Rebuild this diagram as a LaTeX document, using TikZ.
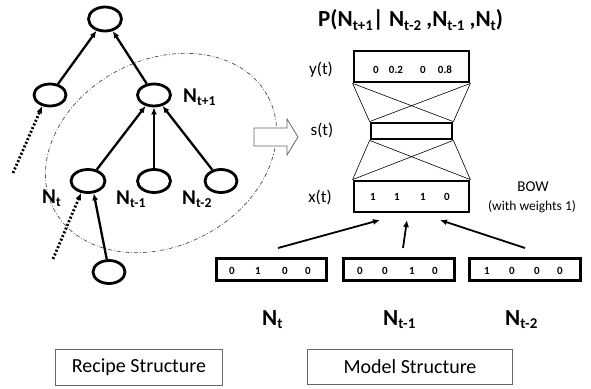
\documentclass[tikz,border=0pt]{standalone}
\usepackage{fontspec}
\setmainfont{Carlito}
\usetikzlibrary{arrows.meta,shapes.geometric,calc}
\newcommand{\lowsub}[1]{\raisebox{-0.15em}{\scalebox{0.65}{#1}}}
\begin{document}
\begin{tikzpicture}[x=1pt,y=-1pt,
  treenode/.style={ellipse, draw, line width=2.8pt, minimum width=32pt, minimum height=22pt, inner sep=0pt},
  tarrow/.style={line width=2.3pt, -{Latex[length=7pt,width=6pt]}},
  darrow/.style={line width=2.8pt, dash pattern=on 2pt off 2pt, -{Latex[length=7pt,width=6pt]}},
  barrow/.style={line width=1.8pt, -{Latex[length=7pt,width=6pt]}},
  nlab/.style={font=\fontsize{21}{25}\selectfont\bfseries, inner sep=0pt, anchor=base west},
  blab/.style={font=\fontsize{23}{27}\selectfont\bfseries, inner sep=0pt, anchor=base west},
  vecbox/.style={draw, line width=2.8pt, rectangle, inner sep=0pt},
  num/.style={font=\fontsize{11}{13}\selectfont\bfseries, inner sep=0pt},
  side/.style={font=\fontsize{17}{20}\selectfont, inner sep=0pt},
  caption/.style={draw=black!60, line width=0.8pt, rectangle, inner sep=0pt, font=\fontsize{20}{24}\selectfont},
  thin/.style={line width=0.6pt}
]
\useasboundingbox (0,0) rectangle (591,388);

% dash-dotted ellipse around the local context
\begin{scope}[shift={(161,153)}, rotate=27.6]
  \draw[black!70, line width=0.7pt, dash pattern=on 4pt off 2pt on 0.8pt off 2pt] (0,0) ellipse [x radius=121, y radius=93];
\end{scope}

% hollow arrow
\draw[black!60, line width=0.8pt, fill=white] (254,128) -- (287,128) -- (287,119) -- (298,137) -- (287,155) -- (287,146) -- (254,146) -- cycle;

% tree
\node[treenode, minimum width=33pt, minimum height=24pt] (top) at (105,19) {};
\node[treenode] (lm) at (50,95) {};
\node[treenode, minimum width=33pt] (np1) at (154,95) {};
\node[treenode, minimum width=34pt, minimum height=23pt] (nt) at (88,181) {};
\node[treenode, minimum width=33pt, minimum height=23pt] (ntm1) at (154,181) {};
\node[treenode, minimum height=23pt] (ntm2) at (221,181) {};
\node[treenode, minimum height=23pt] (bot) at (109,272) {};

\draw[tarrow] (lm) -- (top);
\draw[tarrow] (np1) -- (top);
\draw[tarrow] (nt) -- (np1);
\draw[tarrow] (ntm1) -- (np1);
\draw[tarrow] (ntm2) -- (np1);
\draw[tarrow] (bot.100) -- (nt.-65);

\coordinate (d1) at (13,173);
\coordinate (d2) at (53,259);
\draw[darrow] (d1) -- (lm.-125);
\draw[darrow] (d2) -- (nt.-120);

\node[nlab] (lnp1) at (183,102) {N\lowsub{t+1}};
\node[nlab] (lnt) at (42,203) {N\lowsub{t}};
\node[nlab] (lntm1) at (116,204) {N\lowsub{t-1}};
\node[nlab] (lntm2) at (182,204) {N\lowsub{t-2}};

% model
\node[font=\fontsize{23}{27}\selectfont\bfseries, inner sep=0pt, anchor=base west] (title) at (318,27)
  {P(N\lowsub{t+1}| N\lowsub{t-2} ,N\lowsub{t-1} ,N\lowsub{t})};

\node[vecbox, minimum width=115pt, minimum height=31pt] (ybox) at (411.5,66.5) {};
\node[vecbox, minimum width=81pt, minimum height=16pt] (sbox) at (411.5,131) {};
\node[vecbox, minimum width=115pt, minimum height=31pt] (xbox) at (411.5,196.5) {};

\node[side] (ylab) at (321,70) {y(t)};
\node[side] (slab) at (322,130) {s(t)};
\node[side] (xlab) at (320,197) {x(t)};

\draw[thin] (ybox.south west) -- (sbox.north west);
\draw[thin] (ybox.south east) -- (sbox.north east);
\draw[thin] (ybox.south west) -- (sbox.north east);
\draw[thin] (ybox.south east) -- (sbox.north west);
\draw[thin] (sbox.south west) -- (xbox.north west);
\draw[thin] (sbox.south east) -- (xbox.north east);
\draw[thin] (sbox.south west) -- (xbox.north east);
\draw[thin] (sbox.south east) -- (xbox.north west);

\node[num] (y1) at (376,70) {0};
\node[num] (y2) at (396,70) {0.2};
\node[num] (y3) at (423,70) {0};
\node[num] (y4) at (445,70) {0.8};

\node[num] (x1) at (373,197) {1};
\node[num] (x2) at (397,197) {1};
\node[num] (x3) at (423,197) {1};
\node[num] (x4) at (447,197) {0};

\node[font=\fontsize{15}{18}\selectfont, inner sep=0pt] (bow) at (533,187) {BOW};
\node[font=\fontsize{13.5}{16}\selectfont, inner sep=0pt] (bowsub) at (532,207) {(with weights 1)};

% input one-hot vectors
\node[vecbox, minimum width=110pt, minimum height=22pt] (b1) at (271.5,269.5) {};
\node[vecbox, minimum width=111pt, minimum height=22pt] (b2) at (399,269.5) {};
\node[vecbox, minimum width=111pt, minimum height=22pt] (b3) at (525,269.5) {};

\node[num] (b1a) at (232,271) {0};
\node[num] (b1b) at (258,271) {1};
\node[num] (b1c) at (285,271) {0};
\node[num] (b1d) at (308,271) {0};
\node[num] (b2a) at (360,271) {0};
\node[num] (b2b) at (385,271) {0};
\node[num] (b2c) at (412,271) {1};
\node[num] (b2d) at (435,271) {0};
\node[num] (b3a) at (487,271) {1};
\node[num] (b3b) at (512,271) {0};
\node[num] (b3c) at (537,271) {0};
\node[num] (b3d) at (560,271) {0};

\coordinate (a1s) at (278,248);
\coordinate (a1e) at (380,220);
\coordinate (a2s) at (403,248);
\coordinate (a2e) at (407,220);
\coordinate (a3s) at (525,248);
\coordinate (a3e) at (440,220);
\draw[barrow] (a1s) -- (a1e);
\draw[barrow] (a2s) -- (a2e);
\draw[barrow] (a3s) -- (a3e);

\node[blab] (bnt) at (262,325) {N\lowsub{t}};
\node[blab] (bntm1) at (383,325) {N\lowsub{t-1}};
\node[blab] (bntm2) at (505,325) {N\lowsub{t-2}};

% captions
\node[caption, minimum width=167pt, minimum height=36pt] (recipe) at (139,367.5) {Recipe Structure};
\node[caption, minimum width=205pt, minimum height=35pt] (model) at (410,367) {Model Structure};
\end{tikzpicture}
\end{document}
